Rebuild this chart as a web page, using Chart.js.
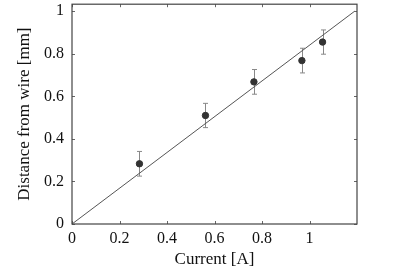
<!DOCTYPE html>
<html>
<head>
<meta charset="utf-8">
<script src="https://cdn.jsdelivr.net/npm/chart.js@4"></script>
<style>
  html,body{margin:0;padding:0;background:#fff;}
  #wrap{width:401px;height:269px;}
</style>
</head>
<body>
<div id="wrap"><canvas id="c"></canvas></div>
<script>
// measured values
var current  = [0.284, 0.562, 0.766, 0.968, 1.055];
var distance = [0.283, 0.510, 0.668, 0.768, 0.855];
var errBar   = [0.058, 0.057, 0.058, 0.058, 0.057];
// fitted line
var fitX = [0, 1.19];
var fitY = [0, 1.0];
var xTicks = [0, 0.2, 0.4, 0.6, 0.8, 1];
var yTicks = [0, 0.2, 0.4, 0.6, 0.8, 1];

var serif = 'Liberation Serif';

function fmt(v){ return String(+v.toFixed(1)); }

var errorBars = {
  id:'errorBars',
  beforeDatasetsDraw:function(chart){
    var c = chart.ctx, xs = chart.scales.x, ys = chart.scales.y;
    c.save();
    c.strokeStyle = '#888'; c.lineWidth = 1;
    current.forEach(function(x,i){
      var px = Math.round(xs.getPixelForValue(x))+0.5;
      var top = ys.getPixelForValue(distance[i]+errBar[i]);
      var bot = ys.getPixelForValue(distance[i]-errBar[i]);
      c.beginPath();
      c.moveTo(px,top); c.lineTo(px,bot);
      c.moveTo(px-2.5,top); c.lineTo(px+2.5,top);
      c.moveTo(px-2.5,bot); c.lineTo(px+2.5,bot);
      c.stroke();
    });
    c.restore();
  },
  afterDraw:function(chart){
    var c = chart.ctx, a = chart.chartArea, xs = chart.scales.x, ys = chart.scales.y;
    c.save();
    c.strokeStyle = '#666'; c.lineWidth = 1;
    c.beginPath();
    xTicks.forEach(function(v){
      var px = Math.round(xs.getPixelForValue(v))+0.5;
      c.moveTo(px,a.bottom); c.lineTo(px,a.bottom-3);
      c.moveTo(px,a.top); c.lineTo(px,a.top+3);
    });
    yTicks.forEach(function(v){
      var py = Math.round(ys.getPixelForValue(v))+0.5;
      c.moveTo(a.left,py); c.lineTo(a.left+3,py);
      c.moveTo(a.right,py); c.lineTo(a.right-3,py);
    });
    c.stroke();
    c.strokeStyle = '#444'; c.lineWidth = 1.2;
    c.strokeRect(a.left, a.top, a.right-a.left, a.bottom-a.top);
    c.restore();
  }
};

function noPad(s){ s.paddingTop = 0; s.paddingBottom = 0; s.paddingLeft = 0; s.paddingRight = 0; }

new Chart(document.getElementById('c'), {
  type:'scatter',
  data:{ datasets:[
    { type:'line', data:fitX.map(function(x,i){ return {x:x, y:fitY[i]}; }),
      borderColor:'#555', borderWidth:1, pointRadius:0, fill:false },
    { data:current.map(function(x,i){ return {x:x, y:distance[i]}; }),
      backgroundColor:'#333', borderColor:'#333', pointRadius:3.2, pointHoverRadius:3.2 }
  ]},
  options:{
    responsive:true, maintainAspectRatio:false, animation:false,
    layout:{ padding:{ left:0, right:44, top:3, bottom:0 } },
    plugins:{ legend:{display:false}, tooltip:{enabled:false} },
    scales:{
      x:{ type:'linear', min:0, max:1.2,
        afterBuildTicks:function(s){ s.ticks = xTicks.map(function(v){ return {value:v}; }); },
        afterFit:function(s){ s.height = 45; noPad(s); },
        grid:{ display:false, drawTicks:false }, border:{ display:false },
        ticks:{ padding:5, color:'#111', font:{ family:serif, size:16 }, callback:fmt, maxRotation:0 },
        title:{ display:true, text:'Current [A]', color:'#111', font:{ family:serif, size:17 }, padding:{top:0, bottom:-1} }
      },
      y:{ type:'linear', min:0, max:1.033,
        afterBuildTicks:function(s){ s.ticks = yTicks.map(function(v){ return {value:v}; }); },
        afterFit:function(s){ s.width = 72; noPad(s); },
        grid:{ display:false, drawTicks:false }, border:{ display:false },
        ticks:{ padding:8, color:'#111', font:{ family:serif, size:16 }, callback:fmt },
        title:{ display:true, text:'Distance from wire [mm]', color:'#111', font:{ family:serif, size:17 }, padding:{top:14} }
      }
    }
  },
  plugins:[errorBars]
});
</script>
</body>
</html>
